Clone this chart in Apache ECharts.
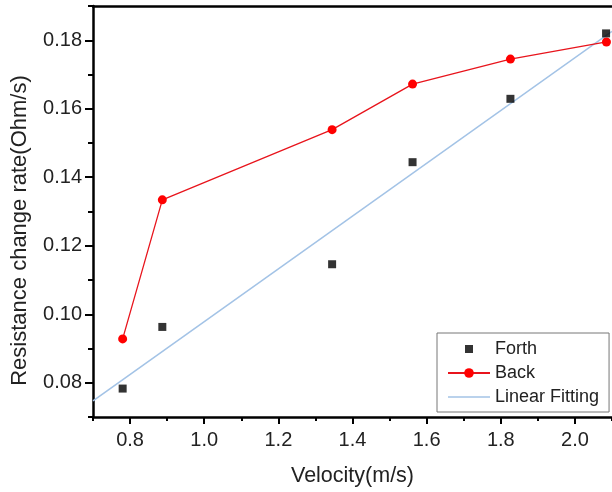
<!DOCTYPE html>
<html>
<head>
<meta charset="utf-8">
<script src="https://cdn.jsdelivr.net/npm/echarts@6/dist/echarts.min.js"></script>
<style>
  html, body { margin: 0; padding: 0; background: #fff; }
  #chart { width: 612px; height: 492px; }
</style>
</head>
<body>
<div id="chart"></div>
<script>
// Measured velocities (m/s) and resistance change rates (Ohm/s)
const forthX = [0.780, 0.887, 1.345, 1.562, 1.826, 2.084];
const forthY = [0.0783, 0.0963, 0.1146, 0.1444, 0.1629, 0.1820];
const backX = [0.780, 0.887, 1.345, 1.562, 1.826, 2.085];
const backY = [0.0928, 0.1334, 0.1539, 0.1672, 0.1745, 0.1795];
// Endpoints of the linear fit to the "Forth" data
const fitX = [0.70, 2.10];
const fitY = [0.0747, 0.1826];

const xTickLabels = [0.8, 1.0, 1.2, 1.4, 1.6, 1.8, 2.0];
const yTickLabels = [0.08, 0.10, 0.12, 0.14, 0.16, 0.18];

const pairs = (xs, ys) => xs.map((x, i) => [x, ys[i]]);

const FONT = 'Liberation Sans, Arial, sans-serif';
const TEXT = '#222';
const AXIS = '#000';

const chart = echarts.init(document.getElementById('chart'), null, { renderer: 'canvas' });

chart.setOption({
  animation: false,
  backgroundColor: '#fff',
  textStyle: { fontFamily: FONT },
  grid: { left: 93, right: -2, top: 6, bottom: 74, containLabel: false },
  legend: {
    orient: 'vertical',
    left: 437,
    top: 333,
    padding: [7, 10, 6, 10],
    itemWidth: 42,
    itemHeight: 12,
    itemGap: 6,
    borderColor: '#777',
    borderWidth: 1,
    borderRadius: 0,
    backgroundColor: '#fff',
    textStyle: { fontFamily: FONT, fontSize: 18, color: TEXT },
    data: [
      { name: 'Forth', icon: 'path://M0,0M12,12M2,2h8v8h-8z' },
      { name: 'Back' },
      { name: 'Linear Fitting', icon: 'path://M0,0h42v1.6h-42z' }
    ]
  },
  xAxis: [
    {
      type: 'value', min: 0.7, max: 2.1, position: 'bottom',
      name: 'Velocity(m/s)', nameLocation: 'middle', nameGap: 48,
      nameTextStyle: { fontFamily: FONT, fontSize: 21.5, color: TEXT },
      axisLine: { show: true, lineStyle: { color: AXIS, width: 2.5 } },
      axisTick: { show: true, customValues: xTickLabels, length: 7, lineStyle: { color: AXIS, width: 2 } },
      axisLabel: {
        customValues: xTickLabels, margin: 13,
        fontFamily: FONT, fontSize: 20, color: TEXT,
        formatter: v => v.toFixed(1)
      },
      splitLine: { show: false }
    },
    {
      // minor ticks along the bottom
      type: 'value', min: 0.7, max: 2.1, interval: 0.1, position: 'bottom',
      axisLine: { show: false },
      axisTick: { show: true, length: 4, lineStyle: { color: AXIS, width: 2 } },
      axisLabel: { show: false },
      splitLine: { show: false }
    },
    {
      // top frame line
      type: 'value', min: 0.7, max: 2.1, position: 'top',
      axisLine: { show: true, lineStyle: { color: AXIS, width: 2.5 } },
      axisTick: { show: false },
      axisLabel: { show: false },
      splitLine: { show: false }
    }
  ],
  yAxis: [
    {
      type: 'value', min: 0.07, max: 0.19, position: 'left',
      name: 'Resistance change rate(Ohm/s)', nameLocation: 'middle', nameGap: 62,
      nameTextStyle: { fontFamily: FONT, fontSize: 22, color: TEXT, padding: [0, 38, 0, 0] },
      axisLine: { show: true, lineStyle: { color: AXIS, width: 2.5 } },
      axisTick: { show: true, customValues: yTickLabels, length: 8, lineStyle: { color: AXIS, width: 2 } },
      axisLabel: {
        customValues: yTickLabels, margin: 11,
        fontFamily: FONT, fontSize: 20, color: TEXT,
        formatter: v => v.toFixed(2)
      },
      splitLine: { show: false }
    },
    {
      // minor ticks along the left side
      type: 'value', min: 0.07, max: 0.19, interval: 0.01, position: 'left',
      axisLine: { show: false },
      axisTick: { show: true, length: 5, lineStyle: { color: AXIS, width: 2 } },
      axisLabel: { show: false },
      splitLine: { show: false }
    }
  ],
  series: [
    {
      name: 'Linear Fitting', type: 'line', xAxisIndex: 0, yAxisIndex: 0,
      data: pairs(fitX, fitY),
      symbol: 'none',
      lineStyle: { color: '#a3c3e6', width: 1.6 },
      itemStyle: { color: '#a3c3e6' },
      z: 2
    },
    {
      name: 'Back', type: 'line', xAxisIndex: 0, yAxisIndex: 0,
      data: pairs(backX, backY),
      symbol: 'circle', symbolSize: 9, showSymbol: true,
      lineStyle: { color: '#e8141c', width: 1.3 },
      itemStyle: { color: '#ff0000' },
      z: 3
    },
    {
      name: 'Forth', type: 'scatter', xAxisIndex: 0, yAxisIndex: 0,
      data: pairs(forthX, forthY),
      symbol: 'rect', symbolSize: 8,
      itemStyle: { color: '#000' },
      z: 4
    }
  ]
});
</script>
</body>
</html>
